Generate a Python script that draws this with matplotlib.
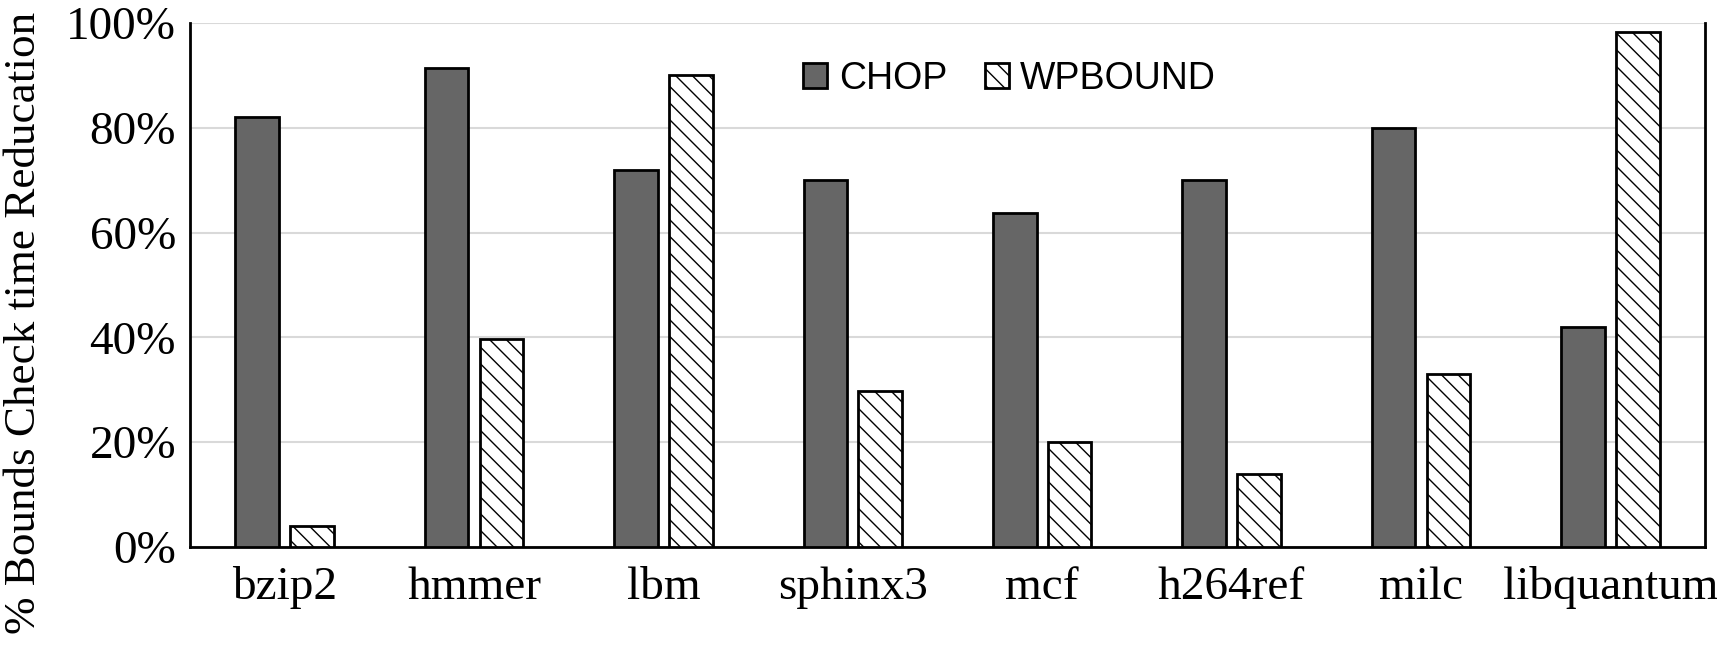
import numpy as np
import matplotlib
matplotlib.use('Agg')
from matplotlib import pyplot as plt

# Dados
benchmarks = ['bzip2', 'hmmer', 'lbm', 'sphinx3', 'mcf', 'h264ref', 'milc', 'libquantum']
chop = [82, 91.5, 72, 70, 63.7, 70, 80, 42]
wpbound = [4, 39.6, 90, 29.7, 20, 14, 33, 98.3]

plt.rcParams['hatch.linewidth'] = 1.0

fig = plt.figure(figsize=(17.17, 6.46), dpi=100)
ax = fig.add_axes([190 / 1717, 1 - 547 / 646, (1705 - 190) / 1717, (547 - 23) / 646])

x = np.arange(len(benchmarks))
largura = 0.23
ax.bar(x - 0.145, chop, largura, color='#666666', edgecolor='black', linewidth=2,
       label='CHOP', zorder=3)
ax.bar(x + 0.145, wpbound, largura, color='white', edgecolor='black', linewidth=2,
       hatch='\\\\', label='WPBOUND', zorder=3)

ax.set_xlim(-0.5, len(benchmarks) - 0.5)
ax.set_ylim(0, 100)
ax.set_yticks(range(0, 101, 20))
ax.set_yticklabels([f'{v}%' for v in range(0, 101, 20)])
ax.set_xticks(x)
ax.set_xticklabels(benchmarks)
ax.tick_params(axis='y', length=0, labelsize=34, pad=10)
ax.tick_params(axis='x', length=0, labelsize=34, pad=14)
for lbl in ax.get_xticklabels() + ax.get_yticklabels():
    lbl.set_family('Liberation Serif')

ax.yaxis.grid(True, color='#d9d9d9', linewidth=1.5, zorder=0)
ax.spines['top'].set_visible(False)
for s in ['left', 'right', 'bottom']:
    ax.spines[s].set_linewidth(2)

# Rotulo do eixo y
fig.text(24 / 1717, 0.5, '% Bounds Check time Reducation', rotation=90, ha='center', va='center',
         fontsize=32.5, family='Liberation Serif')

ax.legend(loc='center', bbox_to_anchor=(0.541, 0.893), ncol=2, frameon=False,
          prop={'family': 'Liberation Sans', 'size': 27},
          handlelength=0.65, handleheight=0.65, columnspacing=1.0, handletextpad=0.3)

fig.savefig('out.png', dpi=100)
